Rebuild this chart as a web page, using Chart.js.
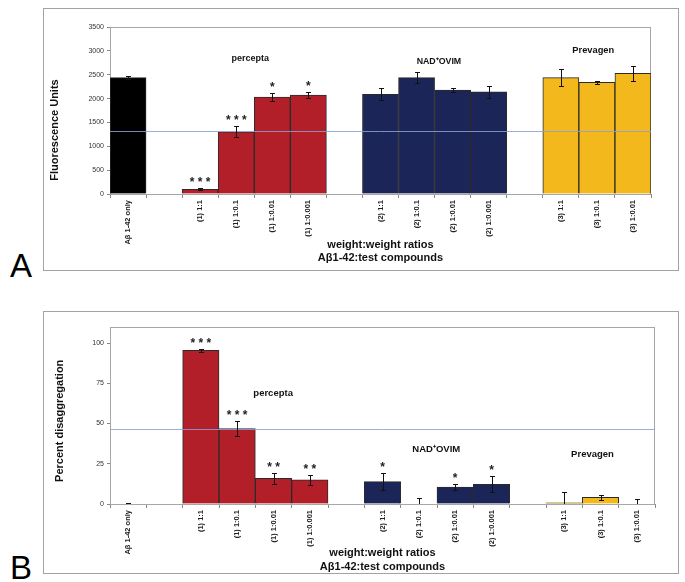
<!DOCTYPE html>
<html>
<head>
<meta charset="utf-8">
<script src="https://cdn.jsdelivr.net/npm/chart.js@4"></script>
<style>
  body { margin: 0; background: #fff; width: 685px; height: 582px; position: relative; overflow: hidden; font-family: "Liberation Sans", Arial, sans-serif; }
  .box { position: absolute; border: 1px solid #a3a3a3; box-sizing: border-box; }
  canvas { position: absolute; }
  .letter { position: absolute; font-size: 33px; line-height: 33px; color: #000; }
</style>
</head>
<body>
<div class="box" style="left:43px; top:8px; width:636px; height:263px;"></div>
<div class="box" style="left:43px; top:311px; width:636px; height:263px;"></div>
<canvas id="fluorescence" width="633" height="260" style="left:44px; top:9px;"></canvas>
<canvas id="disaggregation" width="633" height="262" style="left:44px; top:313px;"></canvas>
<div class="letter" style="left:10px; top:249px;">A</div>
<div class="letter" style="left:10px; top:551px;">B</div>

<script>
// Data

const categories = ['A\u03b2 1-42 only', '',
  '(1) 1:1', '(1) 1:0.1', '(1) 1:0.01', '(1) 1:0.001', '',
  '(2) 1:1', '(2) 1:0.1', '(2) 1:0.01', '(2) 1:0.001', '',
  '(3) 1:1', '(3) 1:0.1', '(3) 1:0.01'];

const fluorescence = [2440, null, 100, 1305, 2030, 2075, null, 2090, 2440, 2180, 2140, null, 2440, 2340, 2530];
const fluorescenceErr = [35, null, 20, 115, 90, 70, null, 130, 110, 45, 130, null, 185, 35, 160];
const fluorescenceStars = ['', '', '***', '***', '*', '*', '', '', '', '', '', '', '', '', ''];
const fluorescenceTicks = [0, 500, 1000, 1500, 2000, 2500, 3000, 3500];
const fluorescenceRef = 1320;

const disaggregation = [0, null, 95.5, 46.8, 16, 15, null, 13.9, 0, 10.5, 12.3, null, 0.8, 4.1, 0];
const disaggregationErr = [0.8, null, 1, 4.8, 3.3, 3.1, null, 5.5, 4, 2.1, 5, null, 6.8, 1.4, 3];
const disaggregationStars = ['', '', '***', '***', '**', '**', '', '*', '', '*', '*', '', '', '', ''];
const disaggregationTicks = [0, 25, 50, 75, 100];
const disaggregationRef = 46.5;

const groupNames = ['percepta', 'NAD\u207aOVIM', 'Prevagen'];

// Styles

const RED = '#b31f29', NAVY = '#1c2557', GOLD = '#f3b91c';
const barColours = ['#000', null, RED, RED, RED, RED, null, NAVY, NAVY, NAVY, NAVY, null, GOLD, GOLD, GOLD];
const FONT = '"Liberation Sans", Arial, sans-serif';

Chart.defaults.font.family = FONT;
Chart.defaults.animation = false;

// plot frame, reference line, error bars, stars, group labels, y title
const extrasPlugin = {
  id: 'extras',
  beforeDatasetsDraw(chart, args, opts) {
    const ctx = chart.ctx, a = chart.chartArea;
    ctx.save();
    ctx.strokeStyle = '#a6a6a6';
    ctx.lineWidth = 1;
    ctx.strokeRect(Math.round(a.left) + 0.5, Math.round(a.top) + 0.5,
      Math.round(a.right - a.left) - 1, Math.round(a.bottom - a.top));
    ctx.restore();
  },
  afterDatasetsDraw(chart, args, opts) {
    const ctx = chart.ctx, a = chart.chartArea;
    const xs = chart.scales.x, ys = chart.scales.y;

    ctx.save();
    ctx.beginPath();
    ctx.rect(a.left, a.top, a.right - a.left, a.bottom - a.top);
    ctx.clip();

    // reference line
    const ly = Math.round(ys.getPixelForValue(opts.refLine)) + 0.5;
    ctx.strokeStyle = 'rgba(140, 160, 215, 0.85)';
    ctx.lineWidth = 1;
    ctx.beginPath();
    ctx.moveTo(a.left, ly);
    ctx.lineTo(a.right, ly);
    ctx.stroke();

    // error bars
    ctx.strokeStyle = '#111';
    opts.values.forEach(function(v, i) {
      if (v == null) return;
      const e = opts.errors[i];
      const cx = Math.round(xs.getPixelForValue(i)) + 0.5;
      const top = Math.round(ys.getPixelForValue(v + e)) + 0.5;
      const bot = Math.round(ys.getPixelForValue(v - e)) + 0.5;
      ctx.beginPath();
      ctx.moveTo(cx, top); ctx.lineTo(cx, bot);
      ctx.moveTo(cx - 2.5, top); ctx.lineTo(cx + 2.5, top);
      ctx.moveTo(cx - 2.5, bot); ctx.lineTo(cx + 2.5, bot);
      ctx.stroke();
    });
    ctx.restore();

    // significance stars
    ctx.save();
    ctx.fillStyle = '#222';
    ctx.font = 'bold 12px ' + FONT;
    ctx.textAlign = 'center';
    ctx.textBaseline = 'alphabetic';
    opts.stars.forEach(function(s, i) {
      if (!s) return;
      const v = opts.values[i] + opts.errors[i];
      ctx.fillText(s.split('').join(' '), xs.getPixelForValue(i), ys.getPixelForValue(v) - 2);
    });

    // group labels
    ctx.fillStyle = '#111';
    ctx.textBaseline = 'middle';
    opts.groups.forEach(function(g, i) {
      ctx.font = 'bold ' + g.size + 'px ' + FONT;
      ctx.fillText(groupNames[i], xs.getPixelForValue(g.at), ys.getPixelForValue(g.value));
    });

    // y axis title
    ctx.font = 'bold 11px ' + FONT;
    ctx.translate(a.left + opts.yTitle.dx, a.top + (a.bottom - a.top) * opts.yTitle.frac);
    ctx.rotate(-Math.PI / 2);
    ctx.fillText(opts.yTitle.text, 0, 0);
    ctx.restore();
  }
};

function makeChart(canvasId, values, errors, stars, ticks, yMax, refLine, cfg) {
  return new Chart(document.getElementById(canvasId), {
    type: 'bar',
    data: {
      labels: categories,
      datasets: [{
        data: values,
        backgroundColor: barColours,
        borderColor: '#2b2b2b',
        borderWidth: 1,
        barPercentage: 1,
        categoryPercentage: 1
      }]
    },
    plugins: [extrasPlugin],
    options: {
      responsive: false,
      layout: { padding: { top: cfg.padTop, right: cfg.padRight, left: 0, bottom: 0 } },
      plugins: {
        legend: { display: false },
        tooltip: { enabled: false },
        extras: {
          values: values,
          errors: errors,
          stars: stars,
          refLine: refLine,
          groups: cfg.groups,
          yTitle: cfg.yTitle
        }
      },
      scales: {
        x: {
          grid: { offset: true, drawOnChartArea: false, drawTicks: true, tickLength: 4, color: '#888' },
          border: { color: '#8a8a8a' },
          ticks: {
            autoSkip: false,
            minRotation: 90,
            maxRotation: 90,
            padding: 2,
            color: '#222',
            font: { size: 7.5, weight: 'bold' }
          },
          title: {
            display: true,
            text: ['weight:weight ratios', 'A\u03b21-42:test compounds'],
            color: '#111',
            font: { size: 11, weight: 'bold' },
            padding: { top: 0, bottom: cfg.titlePad }
          },
          afterFit: function(scale) { scale.height = cfg.xHeight; }
        },
        y: {
          min: 0,
          max: yMax,
          grid: { drawOnChartArea: false, drawTicks: true, tickLength: 3, color: '#888' },
          border: { color: '#8a8a8a' },
          ticks: {
            padding: 3,
            color: '#333',
            font: { size: 7 },
            callback: function(value) { return String(value); }
          },
          afterBuildTicks: function(scale) {
            scale.ticks = ticks.map(function(t) { return { value: t }; });
          },
          afterFit: function(scale) { scale.width = 66; }
        }
      }
    }
  });
}

// A - Fluorescence units
const fluorescenceChart = makeChart('fluorescence', fluorescence, fluorescenceErr, fluorescenceStars,
  fluorescenceTicks, 3500, fluorescenceRef, {
    padTop: 18, padRight: 26, xHeight: 75, titlePad: 4.4,
    groups: [
      { at: 3.39, value: 2830, size: 9 },
      { at: 8.62, value: 2770, size: 8.8 },
      { at: 12.9, value: 3000, size: 9.3 }
    ],
    yTitle: { text: 'Fluorescence Units', dx: -55, frac: 0.617 }
  });

// B - Percent disaggregation
const disaggregationChart = makeChart('disaggregation', disaggregation, disaggregationErr, disaggregationStars,
  disaggregationTicks, 110, disaggregationRef, {
    padTop: 14, padRight: 22, xHeight: 71, titlePad: 1.9,
    groups: [
      { at: 3.99, value: 69, size: 9.5 },
      { at: 8.48, value: 34.2, size: 9.5 },
      { at: 12.78, value: 31.1, size: 9.5 }
    ],
    yTitle: { text: 'Percent disaggregation', dx: -50, frac: 0.53 }
  });
</script>
</body>
</html>
